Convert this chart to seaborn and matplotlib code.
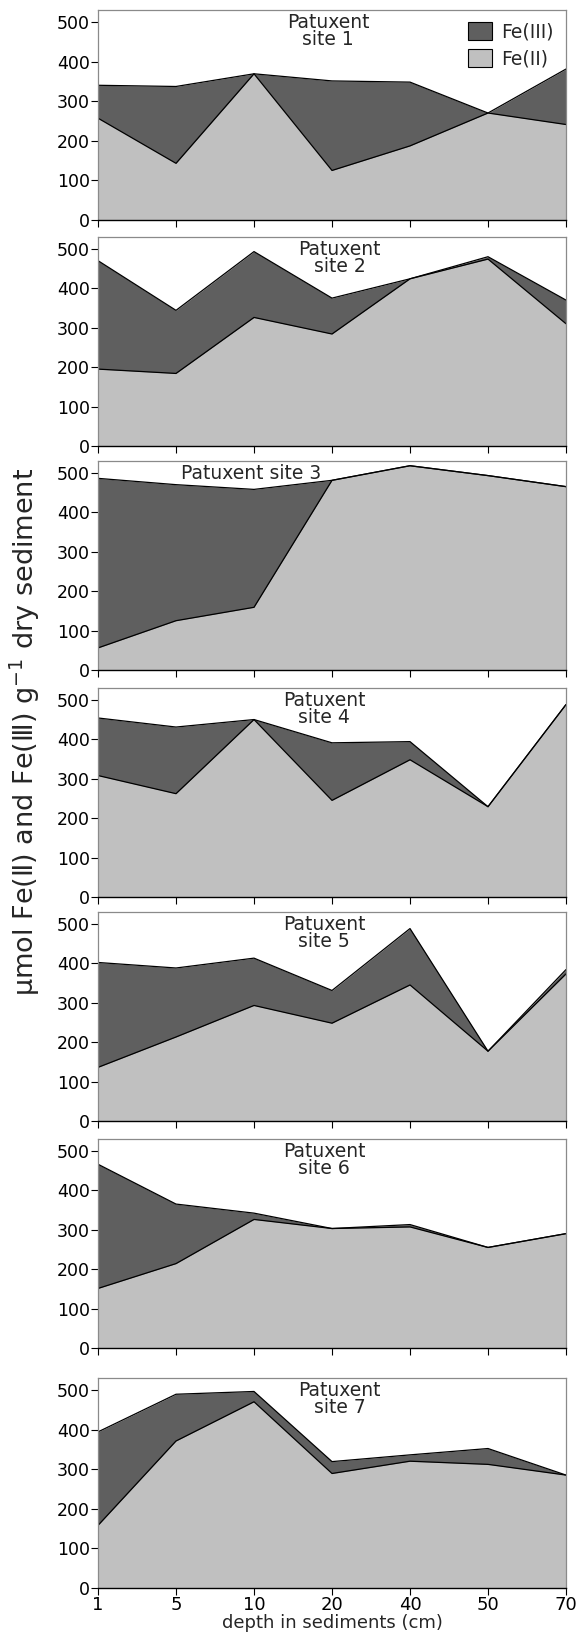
import numpy as np
import pandas as pd
import matplotlib
matplotlib.use("Agg")
import matplotlib.pyplot as plt
import seaborn as sns
from matplotlib.patches import Patch

# ---- data ----
depths = ["1", "5", "10", "20", "40", "50", "70"]
site_titles = ["Patuxent\nsite 1", "Patuxent\nsite 2", "Patuxent site 3",
               "Patuxent\nsite 4", "Patuxent\nsite 5", "Patuxent\nsite 6",
               "Patuxent\nsite 7"]
fe2_site1 = [257, 143, 369, 125, 187, 270, 241]
tot_site1 = [340, 337, 369, 351, 348, 270, 381]
fe2_site2 = [195, 184, 326, 284, 424, 474, 310]
tot_site2 = [470, 344, 493, 375, 424, 480, 370]
fe2_site3 = [56, 125, 159, 481, 518, 493, 465]
tot_site3 = [486, 470, 458, 481, 518, 493, 465]
fe2_site4 = [308, 262, 450, 245, 348, 229, 488]
tot_site4 = [454, 431, 450, 391, 394, 229, 488]
fe2_site5 = [136, 213, 293, 248, 345, 177, 373]
tot_site5 = [402, 388, 413, 331, 488, 177, 384]
fe2_site6 = [151, 214, 326, 303, 307, 255, 290]
tot_site6 = [466, 365, 342, 303, 313, 255, 290]
fe2_site7 = [158, 371, 470, 289, 320, 312, 285]
tot_site7 = [394, 489, 496, 319, 336, 352, 285]

fe2_all = [fe2_site1, fe2_site2, fe2_site3, fe2_site4, fe2_site5, fe2_site6, fe2_site7]
tot_all = [tot_site1, tot_site2, tot_site3, tot_site4, tot_site5, tot_site6, tot_site7]
title_x = [2.95, 3.1, 1.96, 2.9, 2.9, 2.9, 3.1]

sns.set_style("ticks")
plt.rcParams['font.family'] = ['DejaVu Sans']

W, H = 583, 1643
fig = plt.figure(figsize=(W / 100, H / 100), dpi=100)

panels_px = [(10, 220), (237, 446), (461, 670), (688, 897),
             (912, 1121), (1139, 1348), (1378, 1588)]
left_px, right_px = 98, 566

dark = "#5f5f5f"
light = "#c0c0c0"
xpos = np.arange(len(depths))

for i, (top, bot) in enumerate(panels_px):
    ax = fig.add_axes([left_px / W, 1 - bot / H, (right_px - left_px) / W, (bot - top) / H])
    df = pd.DataFrame({"x": xpos, "fe2": fe2_all[i], "tot": tot_all[i]})
    ax.fill_between(df["x"], 0, df["fe2"], color=light, lw=0)
    ax.fill_between(df["x"], df["fe2"], df["tot"], color=dark, lw=0)
    sns.lineplot(data=df, x="x", y="tot", ax=ax, color="black", lw=0.9)
    sns.lineplot(data=df, x="x", y="fe2", ax=ax, color="black", lw=0.9)
    ax.set_xlim(0, 6)
    ax.set_ylim(0, 530)
    ax.set_yticks([0, 100, 200, 300, 400, 500])
    ax.set_xticks(xpos)
    ax.tick_params(axis="both", direction="out", length=5, width=0.8,
                   labelsize=12.5, colors="black", pad=1)
    for s in ["top", "right", "left"]:
        ax.spines[s].set_visible(True)
        ax.spines[s].set_color("#8a8a8a")
        ax.spines[s].set_linewidth(0.9)
    ax.spines["bottom"].set_color("black")
    ax.spines["bottom"].set_linewidth(1.0)
    ax.set_ylabel("")
    ax.set_xlabel("")
    if i < 6:
        ax.set_xticklabels([])
    else:
        ax.set_xticklabels(depths, fontsize=13)
        ax.set_xlabel("depth in sediments (cm)", fontsize=13, labelpad=0)
    ax.text(title_x[i], 0.985, site_titles[i], transform=ax.get_xaxis_transform(),
            ha="center", va="top", fontsize=13.5, linespacing=0.85)
    if i == 0:
        handles = [Patch(facecolor=dark, edgecolor="black", lw=0.8, label="Fe(III)"),
                   Patch(facecolor=light, edgecolor="black", lw=0.8, label="Fe(II)")]
        ax.legend(handles=handles, loc="upper right", frameon=False, fontsize=13.5,
                  handlelength=1.3, handleheight=1.1, handletextpad=0.5,
                  labelspacing=0.4, borderaxespad=0.25, bbox_to_anchor=(1.0, 1.0))

fig.text(25 / W, 1 - 732 / H, "µmol Fe(Ⅱ) and Fe(Ⅲ) g$^{-1}$ dry sediment",
         rotation=90, ha="center", va="center", fontsize=19.5)

fig.savefig("out.png", dpi=100)
